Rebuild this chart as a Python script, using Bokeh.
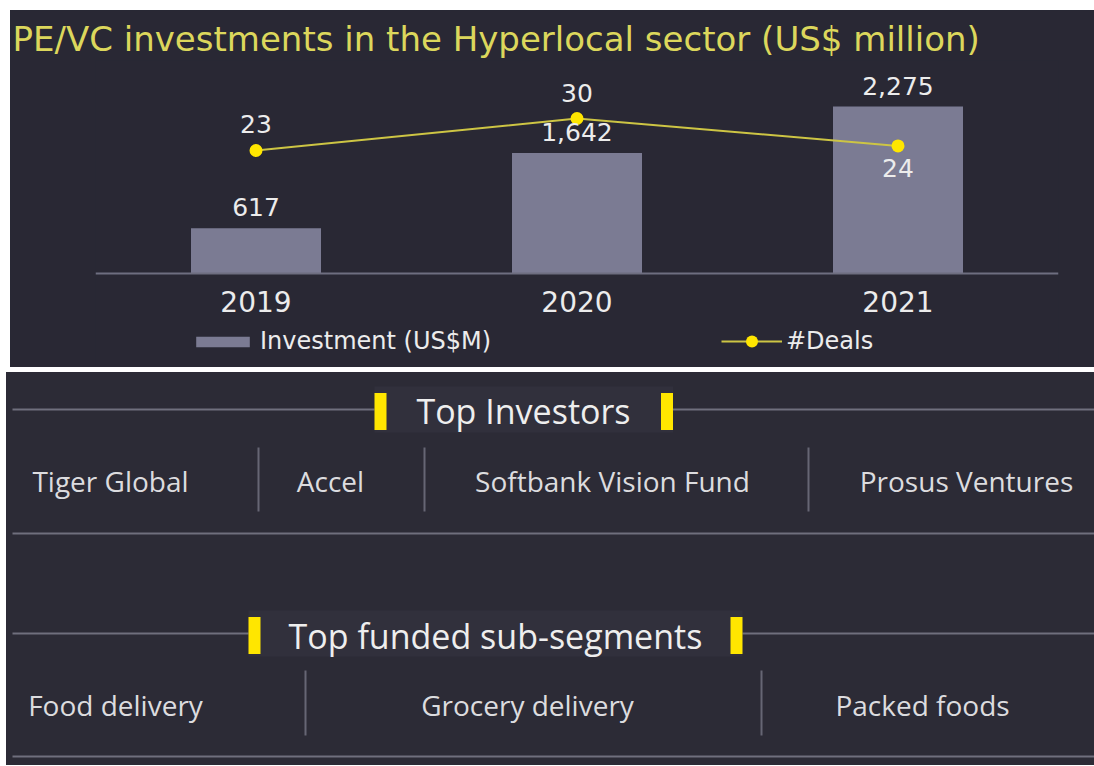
from bokeh.plotting import figure
from bokeh.models import (ColumnDataSource, FactorRange, Range1d, LabelSet,
                          Legend, LegendItem)
from bokeh.layouts import column
from bokeh.embed import file_html
from bokeh.resources import INLINE
from bokeh.core.properties import value

# ---------------- data ----------------
years = ["2019", "2020", "2021"]
investment = [617, 1642, 2275]
investment_labels = ["617", "1,642", "2,275"]
deals = [23, 30, 24]
deal_labels = ["23", "30", "24"]
deal_label_side = ["above", "above", "below"]

title_text = "PE/VC investments in the Hyperlocal sector (US$ million)"
investors_title = "Top Investors"
investors = ["Tiger Global", "Accel", "Softbank Vision Fund", "Prosus Ventures"]
segments_title = "Top funded sub-segments"
segments = ["Food delivery", "Grocery delivery", "Packed foods"]

# ---------------- styles ----------------
BG_TOP = "#292834"
BG_BOT = "#2c2b36"
BAR = "#7b7b93"
AXIS = "#6e6e80"
LINE = "#cdc544"
YELLOW = "#ffe600"
TITLE_COL = "#dcd75c"
TXT = "#ececec"
FONT_TOP = "DejaVu Sans"
FONT_BOT = "Open Sans"

# ---------------- top chart ----------------
src = ColumnDataSource(dict(
    year=years, investment=investment, inv_label=investment_labels,
    deals=deals, deal_label=deal_labels,
    deal_off=[26 if s == "above" else -22 for s in deal_label_side],
))

p = figure(x_range=FactorRange(*years), y_range=Range1d(-1281, 2902),
           width=1084, height=357, output_backend="svg", toolbar_location=None,
           min_border_left=85, min_border_right=36, min_border_top=50,
           min_border_bottom=0, background_fill_color=BG_TOP,
           border_fill_color=BG_TOP, outline_line_color=None,
           y_axis_location=None, margin=(10, 0, 0, 10),
           styles={"background-color": BG_TOP})
p.frame_align = False
p.outline_line_alpha = 0
p.extra_y_ranges = {"deals": Range1d(-24.5, 42.7)}
p.grid.visible = False

p.title.text = title_text
p.title.align = "left"
p.title.offset = -83
p.title.standoff = 4
p.title.text_font = FONT_TOP
p.title.text_font_size = "34px"
p.title.text_font_style = "normal"
p.title.text_color = TITLE_COL

p.xaxis.fixed_location = 0
p.xaxis.axis_line_color = AXIS
p.xaxis.axis_line_width = 2
p.xaxis.major_tick_line_color = None
p.xaxis.minor_tick_line_color = None
p.xaxis.major_label_text_font = FONT_TOP
p.xaxis.major_label_text_font_size = "28px"
p.xaxis.major_label_text_color = TXT
p.xaxis.major_label_standoff = 12

bars = p.vbar(x="year", top="investment", width=0.405, source=src,
              fill_color=BAR, line_color=None)
line_r = p.line(x="year", y="deals", source=src, y_range_name="deals",
                line_color=LINE, line_width=2)
mark_r = p.scatter(x="year", y="deals", source=src, y_range_name="deals",
                   marker="circle", size=13, fill_color=YELLOW, line_color=None)

p.add_layout(LabelSet(x="year", y="investment", text="inv_label", source=src,
                      y_offset=21, text_align="center", text_baseline="middle",
                      text_font=value(FONT_TOP), text_font_size="25px",
                      text_color=TXT))
p.add_layout(LabelSet(x="year", y="deals", text="deal_label", source=src,
                      y_range_name="deals", y_offset="deal_off",
                      text_align="center", text_baseline="middle",
                      text_font=value(FONT_TOP), text_font_size="25px",
                      text_color=TXT))

leg_common = dict(orientation="horizontal", padding=0, margin=0,
                  border_line_color=None, background_fill_alpha=0,
                  label_text_font=FONT_TOP, label_text_font_size="24px",
                  label_text_color=TXT, label_standoff=4)
leg1 = Legend(items=[LegendItem(label="Investment (US$M)", renderers=[bars])],
              location=(94, 12), glyph_width=67, glyph_height=13, **leg_common)
leg2 = Legend(items=[LegendItem(label="#Deals", renderers=[line_r, mark_r])],
              location=(626, 11), glyph_width=61, glyph_height=30, **leg_common)
p.add_layout(leg1, "center")
p.add_layout(leg2, "center")

# ---------------- bottom panel (layout in pixels) ----------------
W2, H2 = 1088, 393
q = figure(width=W2, height=H2, x_range=Range1d(0, W2), y_range=Range1d(H2, 0),
           min_border=0, x_axis_location=None, y_axis_location=None,
           output_backend="svg", toolbar_location=None,
           background_fill_color=BG_BOT, border_fill_color=BG_BOT,
           outline_line_color=None, margin=(5, 0, 0, 6),
           styles={"background-color": BG_BOT})
q.frame_align = False
q.outline_line_alpha = 0
q.grid.visible = False

HDR_Y = [37, 261]
TITLE_Y = [38, 263]
MARK_X = [[374, 660.5], [248, 730]]
TITLE_X = [517, 489]
ROW_Y = [108, 332]
ROW_X = [[104, 324, 606, 960], [109, 521, 916]]
SEP_X = [[252, 418, 802], [299, 755]]
SEP_Y = [[75, 139], [298, 363]]
RULE_Y = [161, 384]
MARK_W, MARK_H = 12, 37
LINE_COL = "#6f6f7d"

for k, (ttl, items) in enumerate([(investors_title, investors),
                                   (segments_title, segments)]):
    mx0, mx1 = MARK_X[k]
    y = HDR_Y[k]
    q.quad(left=mx0 - MARK_W / 2, right=mx1 + MARK_W / 2, top=y - 23, bottom=y + 23,
           fill_color="#31303c", line_color=None)
    q.segment(x0=[6, mx1 + MARK_W / 2], x1=[mx0 - MARK_W / 2, W2], y0=[y, y], y1=[y, y],
              line_color=LINE_COL, line_width=2)
    q.rect(x=[mx0, mx1], y=[y + 2, y + 2], width=MARK_W, height=MARK_H,
           fill_color=YELLOW, line_color=None)
    q.text(x=[TITLE_X[k]], y=[TITLE_Y[k]], text=[ttl], text_align="center",
           text_baseline="middle", text_font=value(FONT_BOT),
           text_font_size="34px", text_color="#eeeeee")
    q.text(x=ROW_X[k], y=[ROW_Y[k]] * len(items), text=items, text_align="center",
           text_baseline="middle", text_font=value(FONT_BOT),
           text_font_size="28px", text_color="#dcdcdf")
    sx = SEP_X[k]
    q.segment(x0=sx, x1=sx, y0=[SEP_Y[k][0]] * len(sx), y1=[SEP_Y[k][1]] * len(sx),
              line_color="#666674", line_width=2)
    q.segment(x0=[6], x1=[W2], y0=[RULE_Y[k]], y1=[RULE_Y[k]],
              line_color=LINE_COL, line_width=2)

layout = column(p, q, spacing=0)
open("out.html", "w").write(file_html(layout, INLINE))
